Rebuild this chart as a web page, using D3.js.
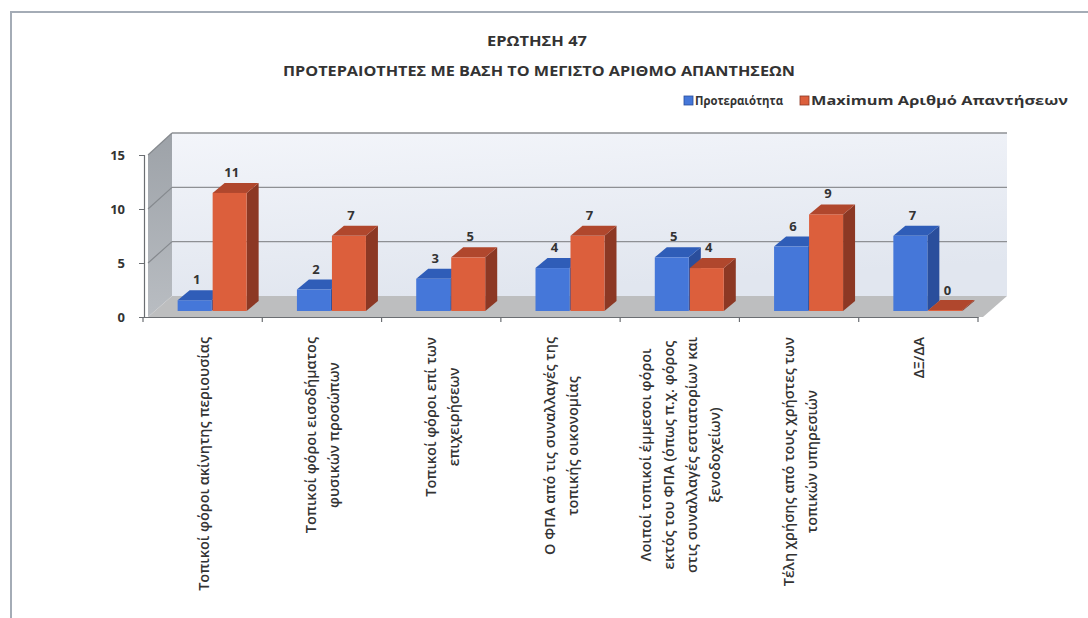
<!DOCTYPE html>
<html>
<head>
<meta charset="utf-8">
<script src="https://cdn.jsdelivr.net/npm/d3@7"></script>
<style>
  html, body { margin: 0; padding: 0; background: #ffffff; }
  svg text { font-family: "Open Sans", "DejaVu Sans", sans-serif; fill: #333333; }
</style>
</head>
<body>
<svg id="chart" width="1088" height="618"></svg>
<script>
// Survey question 47: priorities vs. maximum number of answers
const titleLines = ["ΕΡΩΤΗΣΗ 47", "ΠΡΟΤΕΡΑΙΟΤΗΤΕΣ ΜΕ ΒΑΣΗ ΤΟ ΜΕΓΙΣΤΟ ΑΡΙΘΜΟ ΑΠΑΝΤΗΣΕΩΝ"];
const categories = [
  ["Τοπικοί φόροι ακίνητης περιουσίας"],
  ["Τοπικοί φόροι εισοδήματος", "φυσικών προσώπων"],
  ["Τοπικοί φόροι επί των", "επιχειρήσεων"],
  ["Ο ΦΠΑ από τις συναλλαγές της", "τοπικής οικονομίας"],
  ["Λοιποί τοπικοί έμμεσοι φόροι", "εκτός του ΦΠΑ (όπως π.χ. φόρος", "στις συναλλαγές εστιατορίων και", "ξενοδοχείων)"],
  ["Τέλη χρήσης από τους χρήστες των", "τοπικών υπηρεσιών"],
  ["ΔΞ/ΔΑ"]
];
const seriesNames = ["Προτεραιότητα", "Maximum Αριθμό Απαντήσεων"];
const priority = [1, 2, 3, 4, 5, 6, 7];
const maxAnswers = [11, 7, 5, 7, 4, 9, 0];
const yTicks = [0, 5, 10, 15];

const seriesValues = [priority, maxAnswers];
const palette = [
  { front: "#4577d9", top: "#2f5db8", side: "#2a4e9c" },
  { front: "#dc5f3c", top: "#b0472d", side: "#8c3824" }
];

const svg = d3.select("#chart");

// Outer frame
svg.append("path")
  .attr("d", "M11,618 L11,12 L1088,12")
  .attr("fill", "none").attr("stroke", "#a4acb6").attr("stroke-width", 2);

// Title
svg.append("text").attr("x", 537).attr("y", 46).attr("text-anchor", "middle")
  .attr("font-size", 15).attr("font-weight", 700)
  .attr("textLength", 100).attr("lengthAdjust", "spacingAndGlyphs")
  .text(titleLines[0]);
svg.append("text").attr("x", 539).attr("y", 76).attr("text-anchor", "middle")
  .attr("font-size", 15).attr("font-weight", 700)
  .attr("textLength", 512).attr("lengthAdjust", "spacingAndGlyphs")
  .text(titleLines[1]);

// 3D box geometry
const depth = { dx: 24, dy: -21 };
const xFrontLeft = 148, xFrontRight = 983;
const yFront = d3.scaleLinear().domain([0, 15]).range([317, 155]);
const yBack = d3.scaleLinear().domain([0, 15]).range([296, 133]);

const defs = svg.append("defs");
const wallGrad = defs.append("linearGradient").attr("id", "wall").attr("x1", 0).attr("y1", 0).attr("x2", 0.3).attr("y2", 1);
wallGrad.append("stop").attr("offset", 0).attr("stop-color", "#f3f5fa");
wallGrad.append("stop").attr("offset", 1).attr("stop-color", "#e1e6ef");
const sideGrad = defs.append("linearGradient").attr("id", "side").attr("x1", 0).attr("y1", 0).attr("x2", 0).attr("y2", 1);
sideGrad.append("stop").attr("offset", 0).attr("stop-color", "#9da2a8");
sideGrad.append("stop").attr("offset", 1).attr("stop-color", "#b9bdc2");

const xBackLeft = xFrontLeft + depth.dx, xBackRight = xFrontRight + depth.dx;

// Back wall
svg.append("rect")
  .attr("x", xBackLeft).attr("y", yBack(15))
  .attr("width", xBackRight - xBackLeft).attr("height", yBack(0) - yBack(15))
  .attr("fill", "url(#wall)");

// Left side wall
svg.append("polygon")
  .attr("points", [[xFrontLeft, yFront(0)], [xFrontLeft, yFront(15)], [xBackLeft, yBack(15)], [xBackLeft, yBack(0)]].join(" "))
  .attr("fill", "url(#side)");

// Floor
svg.append("polygon")
  .attr("points", [[xFrontLeft, yFront(0)], [xBackLeft, yBack(0)], [xBackRight, yBack(0)], [xFrontRight, yFront(0)]].join(" "))
  .attr("fill", "#bdbebf");

// Grid lines on the back and side walls
yTicks.filter(v => v > 0).forEach(v => {
  svg.append("line").attr("x1", xBackLeft).attr("x2", xBackRight)
    .attr("y1", yBack(v)).attr("y2", yBack(v))
    .attr("stroke", "#8e9094").attr("stroke-width", 1.4);
  svg.append("line").attr("x1", xFrontLeft).attr("x2", xBackLeft)
    .attr("y1", yFront(v)).attr("y2", yBack(v))
    .attr("stroke", "#85898e").attr("stroke-width", 1.2);
});

// Category axis
const x = d3.scaleBand().domain(d3.range(categories.length)).range([143, 978]).padding(0);
const inner = d3.scaleBand().domain([0, 1]).range([0, 70]).padding(0);
const yBar = d3.scaleLinear().domain([0, 15]).range([311, 150]);

// Value axis
const yAxis = svg.append("g").attr("transform", "translate(144,0)")
  .call(d3.axisLeft(yFront).tickValues(yTicks).tickSize(5).tickPadding(14).tickFormat(d3.format("d")));
yAxis.select(".domain").attr("stroke", "#6b6e72").attr("stroke-width", 1.2);
yAxis.selectAll(".tick line").attr("stroke", "#6b6e72");
yAxis.selectAll(".tick text").attr("font-size", 13).attr("font-weight", 700).attr("fill", "#333");

const xAxis = svg.append("g").attr("transform", `translate(0,${yFront(0)})`)
  .call(d3.axisBottom(x).tickSize(0).tickFormat(""));
xAxis.select(".domain").attr("stroke", "#6b6e72").attr("stroke-width", 1.2);
// Tick marks at category boundaries
const bounds = d3.range(categories.length + 1).map(i => i < categories.length ? x(i) : x(i - 1) + x.bandwidth());
svg.selectAll(".bound").data(bounds).enter().append("line")
  .attr("x1", d => d).attr("x2", d => d)
  .attr("y1", yFront(0)).attr("y2", yFront(0) + 5)
  .attr("stroke", "#6b6e72").attr("stroke-width", 1.2);

// 3D bars
const bd = { dx: 12, dy: -10 };
const bars = [];
categories.forEach((c, i) => {
  const c0 = x(i) + x.bandwidth() / 2 - 25;
  seriesValues.forEach((vals, s) => {
    bars.push({ i, s, v: vals[i], x0: c0 + inner(s), w: inner.bandwidth() - 1 });
  });
});
const barG = svg.append("g");
bars.forEach(b => {
  const col = palette[b.s];
  const yb = yBar(0);
  const yt = b.v === 0 ? yb - 1 : yBar(b.v);
  const x0 = b.x0, x1 = b.x0 + b.w;
  const g = barG.append("g");
  // right side face
  g.append("polygon")
    .attr("points", [[x1, yb], [x1, yt], [x1 + bd.dx, yt + bd.dy], [x1 + bd.dx, yb + bd.dy]].join(" "))
    .attr("fill", col.side);
  // top face
  g.append("polygon")
    .attr("points", [[x0, yt], [x0 + bd.dx, yt + bd.dy], [x1 + bd.dx, yt + bd.dy], [x1, yt]].join(" "))
    .attr("fill", col.top);
  // front face
  g.append("rect").attr("x", x0).attr("y", yt).attr("width", b.w).attr("height", yb - yt)
    .attr("fill", col.front);
  // value label
  svg.append("text").attr("x", x0 + b.w / 2 + 2).attr("y", yBar(b.v) - 16)
    .attr("text-anchor", "middle").attr("font-size", 13).attr("font-weight", 700)
    .attr("fill", "#333").text(b.v);
});

// Rotated category labels, each block's top aligned below the axis
const labelTop = 337, lineH = 23;
categories.forEach((lines, i) => {
  const cx = x(i) + x.bandwidth() / 2 + 1;
  const g = svg.append("g");
  const texts = lines.map((ln, k) => g.append("text")
    .attr("text-anchor", "middle").attr("font-size", 14.5).attr("font-weight", 600)
    .attr("fill", "#333").text(ln));
  const maxLen = d3.max(texts, t => t.node().getComputedTextLength());
  texts.forEach((t, k) => {
    const lx = cx + (k - (lines.length - 1) / 2) * lineH + 5;
    const ly = labelTop + maxLen / 2;
    t.attr("transform", `translate(${lx},${ly}) rotate(-90)`);
  });
});

// Legend
const legend = [
  { x: 684, textX: 695, len: 88 },
  { x: 800, textX: 811, len: 257 }
];
legend.forEach((l, s) => {
  svg.append("rect").attr("x", l.x).attr("y", 96).attr("width", 9).attr("height", 9)
    .attr("fill", palette[s].front).attr("stroke", palette[s].side).attr("stroke-width", 0.8);
  svg.append("text").attr("x", l.textX).attr("y", 105).attr("font-size", 12).attr("font-weight", 700)
    .attr("textLength", l.len).attr("lengthAdjust", "spacingAndGlyphs")
    .attr("fill", "#333").text(seriesNames[s]);
});
</script>
</body>
</html>
